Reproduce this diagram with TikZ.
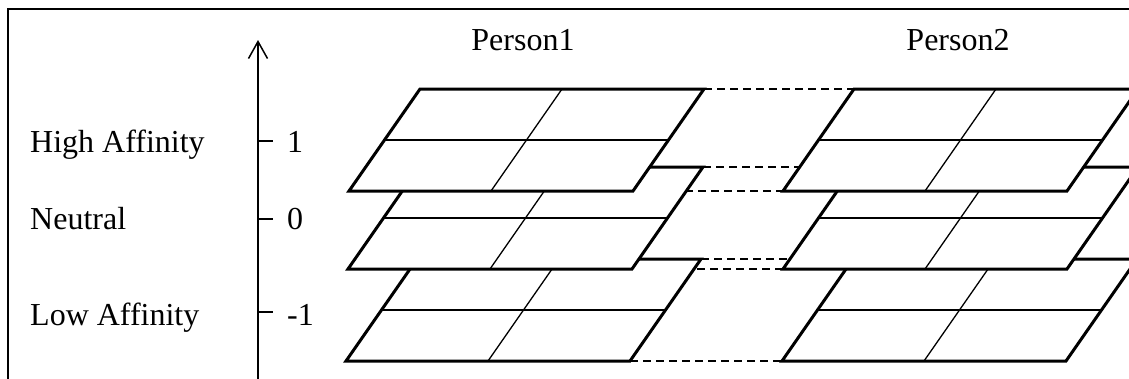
\documentclass[tikz,border=0pt]{standalone}
\usepackage{fontspec}
\setmainfont{Liberation Serif}
\usetikzlibrary{calc,arrows.meta}
\tikzset{
  edge/.style={line width=3pt, line join=miter},
  inner/.style={line width=1.3pt},
  link/.style={line width=1.4pt, dash pattern=on 8pt off 5pt},
  lbl/.style={font=\fontsize{32}{38}\selectfont, inner sep=0pt, anchor=base west},
  ttl/.style={font=\fontsize{32}{38}\selectfont, inner sep=0pt, anchor=base},
}
\newcommand{\planecoords}[3]{%
  \coordinate (#1bl) at (#2,#3);
  \coordinate (#1br) at (#2+284,#3);
  \coordinate (#1tl) at (#2+71,#3-102);
  \coordinate (#1tr) at (#2+355,#3-102);
}
\newcommand{\drawplane}[1]{%
  \fill[white] (#1bl) -- (#1br) -- (#1tr) -- (#1tl) -- cycle;
  \draw[inner] ($(#1bl)!0.5!(#1tl)$) -- ($(#1br)!0.5!(#1tr)$);
  \draw[inner] ($(#1bl)!0.5!(#1br)$) -- ($(#1tl)!0.5!(#1tr)$);
  \draw[edge] (#1bl) -- (#1br) -- (#1tr) -- (#1tl) -- cycle;
}
\begin{document}
\begin{tikzpicture}[x=1pt,y=-1pt]
\useasboundingbox (0,0) rectangle (1129,378);
\clip (0,0) rectangle (1129,378);
\fill[white] (0,0) rectangle (1129,378);
% frame
\draw[line width=1.5pt] (8,400) -- (8,9) -- (1140,9);
% axis
\coordinate (axbot) at (258,390);
\coordinate (axtop) at (258,40);
\draw[line width=1.5pt, -{Straight Barb[length=17pt,width=19pt,line width=1.5pt]}] (axbot) -- (axtop);
\coordinate (t1) at (258,141);
\coordinate (t0) at (258,219);
\coordinate (tm) at (258,312);
\draw[line width=1.5pt] (t1) -- ++(15,0);
\draw[line width=1.5pt] (t0) -- ++(15,0);
\draw[line width=1.5pt] (tm) -- ++(15,0);
\node[lbl] (n1) at (287,152) {1};
\node[lbl] (n0) at (287,229) {0};
\node[lbl] (nm) at (287,325) {-1};
\node[lbl] (high) at (30,152) {High Affinity};
\node[lbl] (neut) at (30,229) {Neutral};
\node[lbl] (low) at (30,325) {Low Affinity};
\node[ttl] (p1) at (523,50) {Person1};
\node[ttl] (p2) at (958,50) {Person2};
% planes
\planecoords{aA}{349}{191}
\planecoords{aB}{348}{269}
\planecoords{aC}{346}{361}
\planecoords{bA}{783}{191}
\planecoords{bB}{783}{269}
\planecoords{bC}{782}{361}
% dashed links
\draw[link] (aAtr) -- (bAtl);
\draw[link] (aAbr) -- (bAbl);
\draw[link] (aBtr) -- (bBtl);
\draw[link] (aBbr) -- (bBbl);
\draw[link] (aCtr) -- (bCtl);
\draw[link] (aCbr) -- (bCbl);
\drawplane{aC}
\drawplane{bC}
\drawplane{aB}
\drawplane{bB}
\drawplane{aA}
\drawplane{bA}
\end{tikzpicture}
\end{document}
